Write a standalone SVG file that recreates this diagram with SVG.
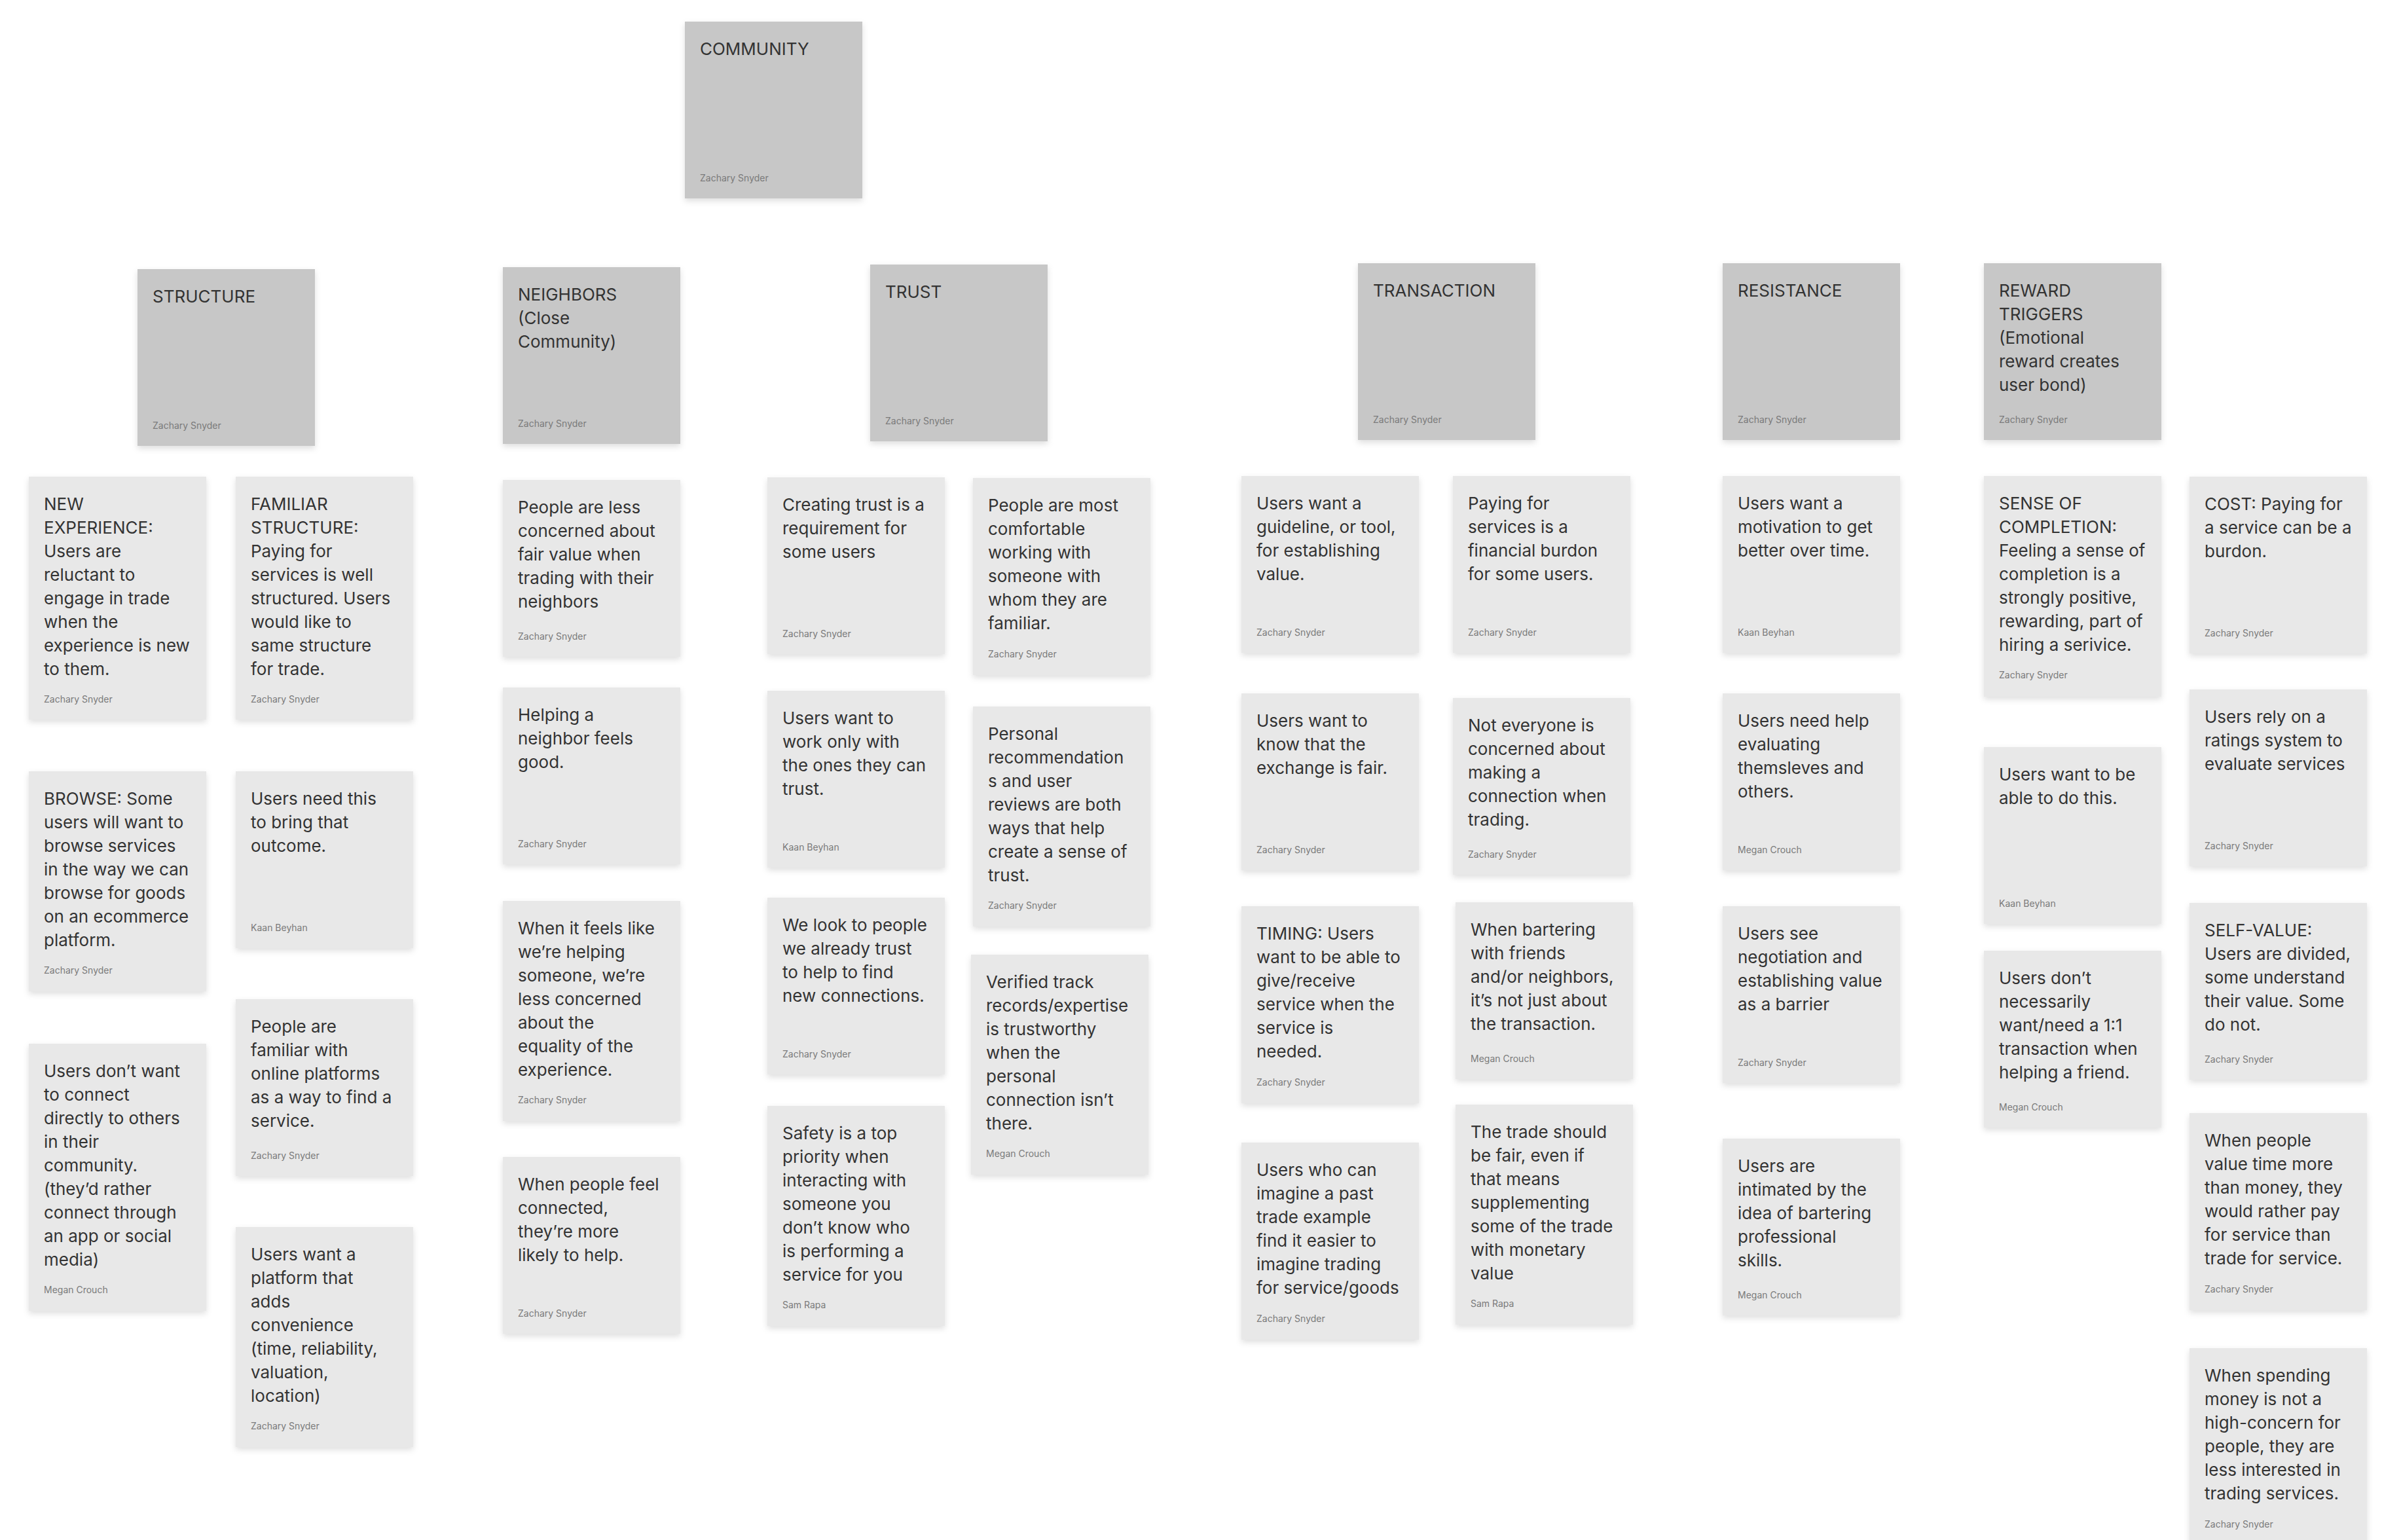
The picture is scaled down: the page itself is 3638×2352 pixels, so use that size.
<svg xmlns="http://www.w3.org/2000/svg" width="3638" height="2352" viewBox="0 0 3638 2352">
<defs>
<filter id="sh" x="-10%" y="-10%" width="120%" height="125%">
<feDropShadow dx="0" dy="4" stdDeviation="5" flood-color="#000" flood-opacity="0.13"/>
</filter>
<style>
.hd rect{fill:#C7C7C7}
.cd rect{fill:#E8E8E8}
rect{filter:url(#sh)}
.t{font-family:Inter,"Liberation Sans",sans-serif;font-size:26px;fill:#333333}
.a{font-family:Inter,"Liberation Sans",sans-serif;font-size:14px;fill:#7A7A7A}
</style>
</defs>
<rect width="3638" height="2352" fill="#FFFFFF" style="filter:none"/>
<g id="connectors"/>

<g id="community" class="hd" transform="translate(1046,33)"><rect width="271" height="270"/><text class="t" x="23" y="51">COMMUNITY</text><text class="a" x="23" y="244">Zachary Snyder</text></g>
<g id="structure" class="hd" transform="translate(210,411)"><rect width="271" height="270"/><text class="t" x="23" y="51">STRUCTURE</text><text class="a" x="23" y="244">Zachary Snyder</text></g>
<g id="neighbors" class="hd" transform="translate(768,408)"><rect width="271" height="270"/><text class="t"><tspan x="23" y="51">NEIGHBORS</tspan><tspan x="23" dy="36">(Close</tspan><tspan x="23" dy="36">Community)</tspan></text><text class="a" x="23" y="244">Zachary Snyder</text></g>
<g id="trust" class="hd" transform="translate(1329,404)"><rect width="271" height="270"/><text class="t" x="23" y="51">TRUST</text><text class="a" x="23" y="244">Zachary Snyder</text></g>
<g id="transaction" class="hd" transform="translate(2074,402)"><rect width="271" height="270"/><text class="t" x="23" y="51">TRANSACTION</text><text class="a" x="23" y="244">Zachary Snyder</text></g>
<g id="resistance" class="hd" transform="translate(2631,402)"><rect width="271" height="270"/><text class="t" x="23" y="51">RESISTANCE</text><text class="a" x="23" y="244">Zachary Snyder</text></g>
<g id="reward-triggers" class="hd" transform="translate(3030,402)"><rect width="271" height="270"/><text class="t"><tspan x="23" y="51">REWARD</tspan><tspan x="23" dy="36">TRIGGERS</tspan><tspan x="23" dy="36">(Emotional</tspan><tspan x="23" dy="36">reward creates</tspan><tspan x="23" dy="36">user bond)</tspan></text><text class="a" x="23" y="244">Zachary Snyder</text></g>

<g id="new-experience" class="cd" transform="translate(44,728)"><rect width="271" height="371"/><text class="t"><tspan x="23" y="51">NEW</tspan><tspan x="23" dy="36">EXPERIENCE:</tspan><tspan x="23" dy="36">Users are</tspan><tspan x="23" dy="36">reluctant to</tspan><tspan x="23" dy="36">engage in trade</tspan><tspan x="23" dy="36">when the</tspan><tspan x="23" dy="36">experience is new</tspan><tspan x="23" dy="36">to them.</tspan></text><text class="a" x="23" y="345">Zachary Snyder</text></g>
<g id="browse" class="cd" transform="translate(44,1178)"><rect width="271" height="336"/><text class="t"><tspan x="23" y="51">BROWSE: Some</tspan><tspan x="23" dy="36">users will want to</tspan><tspan x="23" dy="36">browse services</tspan><tspan x="23" dy="36">in the way we can</tspan><tspan x="23" dy="36">browse for goods</tspan><tspan x="23" dy="36">on an ecommerce</tspan><tspan x="23" dy="36">platform.</tspan></text><text class="a" x="23" y="309">Zachary Snyder</text></g>
<g id="no-direct-connect" class="cd" transform="translate(44,1594)"><rect width="271" height="408"/><text class="t"><tspan x="23" y="51">Users don’t want</tspan><tspan x="23" dy="36">to connect</tspan><tspan x="23" dy="36">directly to others</tspan><tspan x="23" dy="36">in their</tspan><tspan x="23" dy="36">community.</tspan><tspan x="23" dy="36">(they’d rather</tspan><tspan x="23" dy="36">connect through</tspan><tspan x="23" dy="36">an app or social</tspan><tspan x="23" dy="36">media)</tspan></text><text class="a" x="23" y="381">Megan Crouch</text></g>

<g id="familiar-structure" class="cd" transform="translate(360,728)"><rect width="271" height="371"/><text class="t"><tspan x="23" y="51">FAMILIAR</tspan><tspan x="23" dy="36">STRUCTURE:</tspan><tspan x="23" dy="36">Paying for</tspan><tspan x="23" dy="36">services is well</tspan><tspan x="23" dy="36">structured. Users</tspan><tspan x="23" dy="36">would like to</tspan><tspan x="23" dy="36">same structure</tspan><tspan x="23" dy="36">for trade.</tspan></text><text class="a" x="23" y="345">Zachary Snyder</text></g>
<g id="need-outcome" class="cd" transform="translate(360,1178)"><rect width="271" height="270"/><text class="t"><tspan x="23" y="51">Users need this</tspan><tspan x="23" dy="36">to bring that</tspan><tspan x="23" dy="36">outcome.</tspan></text><text class="a" x="23" y="244">Kaan Beyhan</text></g>
<g id="familiar-platforms" class="cd" transform="translate(360,1526)"><rect width="271" height="270"/><text class="t"><tspan x="23" y="51">People are</tspan><tspan x="23" dy="36">familiar with</tspan><tspan x="23" dy="36">online platforms</tspan><tspan x="23" dy="36">as a way to find a</tspan><tspan x="23" dy="36">service.</tspan></text><text class="a" x="23" y="244">Zachary Snyder</text></g>
<g id="platform-convenience" class="cd" transform="translate(360,1874)"><rect width="271" height="336"/><text class="t"><tspan x="23" y="51">Users want a</tspan><tspan x="23" dy="36">platform that</tspan><tspan x="23" dy="36">adds</tspan><tspan x="23" dy="36">convenience</tspan><tspan x="23" dy="36">(time, reliability,</tspan><tspan x="23" dy="36">valuation,</tspan><tspan x="23" dy="36">location)</tspan></text><text class="a" x="23" y="309">Zachary Snyder</text></g>

<g id="less-concerned" class="cd" transform="translate(768,733)"><rect width="271" height="270"/><text class="t"><tspan x="23" y="51">People are less</tspan><tspan x="23" dy="36">concerned about</tspan><tspan x="23" dy="36">fair value when</tspan><tspan x="23" dy="36">trading with their</tspan><tspan x="23" dy="36">neighbors</tspan></text><text class="a" x="23" y="244">Zachary Snyder</text></g>
<g id="helping-neighbor" class="cd" transform="translate(768,1050)"><rect width="271" height="270"/><text class="t"><tspan x="23" y="51">Helping a</tspan><tspan x="23" dy="36">neighbor feels</tspan><tspan x="23" dy="36">good.</tspan></text><text class="a" x="23" y="244">Zachary Snyder</text></g>
<g id="feels-helping" class="cd" transform="translate(768,1376)"><rect width="271" height="336"/><text class="t"><tspan x="23" y="51">When it feels like</tspan><tspan x="23" dy="36">we’re helping</tspan><tspan x="23" dy="36">someone, we’re</tspan><tspan x="23" dy="36">less concerned</tspan><tspan x="23" dy="36">about the</tspan><tspan x="23" dy="36">equality of the</tspan><tspan x="23" dy="36">experience.</tspan></text><text class="a" x="23" y="309">Zachary Snyder</text></g>
<g id="feel-connected" class="cd" transform="translate(768,1767)"><rect width="271" height="270"/><text class="t"><tspan x="23" y="51">When people feel</tspan><tspan x="23" dy="36">connected,</tspan><tspan x="23" dy="36">they’re more</tspan><tspan x="23" dy="36">likely to help.</tspan></text><text class="a" x="23" y="244">Zachary Snyder</text></g>

<g id="creating-trust" class="cd" transform="translate(1172,729)"><rect width="271" height="270"/><text class="t"><tspan x="23" y="51">Creating trust is a</tspan><tspan x="23" dy="36">requirement for</tspan><tspan x="23" dy="36">some users</tspan></text><text class="a" x="23" y="244">Zachary Snyder</text></g>
<g id="work-trust" class="cd" transform="translate(1172,1055)"><rect width="271" height="270"/><text class="t"><tspan x="23" y="51">Users want to</tspan><tspan x="23" dy="36">work only with</tspan><tspan x="23" dy="36">the ones they can</tspan><tspan x="23" dy="36">trust.</tspan></text><text class="a" x="23" y="244">Kaan Beyhan</text></g>
<g id="look-people" class="cd" transform="translate(1172,1371)"><rect width="271" height="270"/><text class="t"><tspan x="23" y="51">We look to people</tspan><tspan x="23" dy="36">we already trust</tspan><tspan x="23" dy="36">to help to find</tspan><tspan x="23" dy="36">new connections.</tspan></text><text class="a" x="23" y="244">Zachary Snyder</text></g>
<g id="safety" class="cd" transform="translate(1172,1689)"><rect width="271" height="336"/><text class="t"><tspan x="23" y="51">Safety is a top</tspan><tspan x="23" dy="36">priority when</tspan><tspan x="23" dy="36">interacting with</tspan><tspan x="23" dy="36">someone you</tspan><tspan x="23" dy="36">don’t know who</tspan><tspan x="23" dy="36">is performing a</tspan><tspan x="23" dy="36">service for you</tspan></text><text class="a" x="23" y="309">Sam Rapa</text></g>

<g id="most-comfortable" class="cd" transform="translate(1486,730)"><rect width="271" height="301"/><text class="t"><tspan x="23" y="51">People are most</tspan><tspan x="23" dy="36">comfortable</tspan><tspan x="23" dy="36">working with</tspan><tspan x="23" dy="36">someone with</tspan><tspan x="23" dy="36">whom they are</tspan><tspan x="23" dy="36">familiar.</tspan></text><text class="a" x="23" y="274">Zachary Snyder</text></g>
<g id="personal-recs" class="cd" transform="translate(1486,1079)"><rect width="271" height="336"/><text class="t"><tspan x="23" y="51">Personal</tspan><tspan x="23" dy="36">recommendation</tspan><tspan x="23" dy="36">s and user</tspan><tspan x="23" dy="36">reviews are both</tspan><tspan x="23" dy="36">ways that help</tspan><tspan x="23" dy="36">create a sense of</tspan><tspan x="23" dy="36">trust.</tspan></text><text class="a" x="23" y="309">Zachary Snyder</text></g>
<g id="verified" class="cd" transform="translate(1483,1458)"><rect width="271" height="336"/><text class="t"><tspan x="23" y="51">Verified track</tspan><tspan x="23" dy="36">records/expertise</tspan><tspan x="23" dy="36">is trustworthy</tspan><tspan x="23" dy="36">when the</tspan><tspan x="23" dy="36">personal</tspan><tspan x="23" dy="36">connection isn’t</tspan><tspan x="23" dy="36">there.</tspan></text><text class="a" x="23" y="309">Megan Crouch</text></g>

<g id="guideline" class="cd" transform="translate(1896,727)"><rect width="271" height="270"/><text class="t"><tspan x="23" y="51">Users want a</tspan><tspan x="23" dy="36">guideline, or tool,</tspan><tspan x="23" dy="36">for establishing</tspan><tspan x="23" dy="36">value.</tspan></text><text class="a" x="23" y="244">Zachary Snyder</text></g>
<g id="fair-exchange" class="cd" transform="translate(1896,1059)"><rect width="271" height="270"/><text class="t"><tspan x="23" y="51">Users want to</tspan><tspan x="23" dy="36">know that the</tspan><tspan x="23" dy="36">exchange is fair.</tspan></text><text class="a" x="23" y="244">Zachary Snyder</text></g>
<g id="timing" class="cd" transform="translate(1896,1384)"><rect width="271" height="301"/><text class="t"><tspan x="23" y="51">TIMING: Users</tspan><tspan x="23" dy="36">want to be able to</tspan><tspan x="23" dy="36">give/receive</tspan><tspan x="23" dy="36">service when the</tspan><tspan x="23" dy="36">service is</tspan><tspan x="23" dy="36">needed.</tspan></text><text class="a" x="23" y="274">Zachary Snyder</text></g>
<g id="past-trade" class="cd" transform="translate(1896,1745)"><rect width="271" height="301"/><text class="t"><tspan x="23" y="51">Users who can</tspan><tspan x="23" dy="36">imagine a past</tspan><tspan x="23" dy="36">trade example</tspan><tspan x="23" dy="36">find it easier to</tspan><tspan x="23" dy="36">imagine trading</tspan><tspan x="23" dy="36">for service/goods</tspan></text><text class="a" x="23" y="274">Zachary Snyder</text></g>

<g id="financial-burden" class="cd" transform="translate(2219,727)"><rect width="271" height="270"/><text class="t"><tspan x="23" y="51">Paying for</tspan><tspan x="23" dy="36">services is a</tspan><tspan x="23" dy="36">financial burdon</tspan><tspan x="23" dy="36">for some users.</tspan></text><text class="a" x="23" y="244">Zachary Snyder</text></g>
<g id="not-everyone" class="cd" transform="translate(2219,1066)"><rect width="271" height="270"/><text class="t"><tspan x="23" y="51">Not everyone is</tspan><tspan x="23" dy="36">concerned about</tspan><tspan x="23" dy="36">making a</tspan><tspan x="23" dy="36">connection when</tspan><tspan x="23" dy="36">trading.</tspan></text><text class="a" x="23" y="244">Zachary Snyder</text></g>
<g id="bartering" class="cd" transform="translate(2223,1378)"><rect width="271" height="270"/><text class="t"><tspan x="23" y="51">When bartering</tspan><tspan x="23" dy="36">with friends</tspan><tspan x="23" dy="36">and/or neighbors,</tspan><tspan x="23" dy="36">it’s not just about</tspan><tspan x="23" dy="36">the transaction.</tspan></text><text class="a" x="23" y="244">Megan Crouch</text></g>
<g id="fair-trade" class="cd" transform="translate(2223,1687)"><rect width="271" height="336"/><text class="t"><tspan x="23" y="51">The trade should</tspan><tspan x="23" dy="36">be fair, even if</tspan><tspan x="23" dy="36">that means</tspan><tspan x="23" dy="36">supplementing</tspan><tspan x="23" dy="36">some of the trade</tspan><tspan x="23" dy="36">with monetary</tspan><tspan x="23" dy="36">value</tspan></text><text class="a" x="23" y="309">Sam Rapa</text></g>

<g id="motivation" class="cd" transform="translate(2631,727)"><rect width="271" height="270"/><text class="t"><tspan x="23" y="51">Users want a</tspan><tspan x="23" dy="36">motivation to get</tspan><tspan x="23" dy="36">better over time.</tspan></text><text class="a" x="23" y="244">Kaan Beyhan</text></g>
<g id="evaluating" class="cd" transform="translate(2631,1059)"><rect width="271" height="270"/><text class="t"><tspan x="23" y="51">Users need help</tspan><tspan x="23" dy="36">evaluating</tspan><tspan x="23" dy="36">themsleves and</tspan><tspan x="23" dy="36">others.</tspan></text><text class="a" x="23" y="244">Megan Crouch</text></g>
<g id="negotiation" class="cd" transform="translate(2631,1384)"><rect width="271" height="270"/><text class="t"><tspan x="23" y="51">Users see</tspan><tspan x="23" dy="36">negotiation and</tspan><tspan x="23" dy="36">establishing value</tspan><tspan x="23" dy="36">as a barrier</tspan></text><text class="a" x="23" y="244">Zachary Snyder</text></g>
<g id="intimated" class="cd" transform="translate(2631,1739)"><rect width="271" height="270"/><text class="t"><tspan x="23" y="51">Users are</tspan><tspan x="23" dy="36">intimated by the</tspan><tspan x="23" dy="36">idea of bartering</tspan><tspan x="23" dy="36">professional</tspan><tspan x="23" dy="36">skills.</tspan></text><text class="a" x="23" y="244">Megan Crouch</text></g>

<g id="completion" class="cd" transform="translate(3030,727)"><rect width="271" height="337"/><text class="t"><tspan x="23" y="51">SENSE OF</tspan><tspan x="23" dy="36">COMPLETION:</tspan><tspan x="23" dy="36">Feeling a sense of</tspan><tspan x="23" dy="36">completion is a</tspan><tspan x="23" dy="36">strongly positive,</tspan><tspan x="23" dy="36">rewarding, part of</tspan><tspan x="23" dy="36">hiring a serivice.</tspan></text><text class="a" x="23" y="309">Zachary Snyder</text></g>
<g id="do-this" class="cd" transform="translate(3030,1141)"><rect width="271" height="270"/><text class="t"><tspan x="23" y="51">Users want to be</tspan><tspan x="23" dy="36">able to do this.</tspan></text><text class="a" x="23" y="244">Kaan Beyhan</text></g>
<g id="not-one-to-one" class="cd" transform="translate(3030,1452)"><rect width="271" height="270"/><text class="t"><tspan x="23" y="51">Users don’t</tspan><tspan x="23" dy="36">necessarily</tspan><tspan x="23" dy="36">want/need a 1:1</tspan><tspan x="23" dy="36">transaction when</tspan><tspan x="23" dy="36">helping a friend.</tspan></text><text class="a" x="23" y="244">Megan Crouch</text></g>

<g id="cost" class="cd" transform="translate(3344,728)"><rect width="271" height="270"/><text class="t"><tspan x="23" y="51">COST: Paying for</tspan><tspan x="23" dy="36">a service can be a</tspan><tspan x="23" dy="36">burdon.</tspan></text><text class="a" x="23" y="244">Zachary Snyder</text></g>
<g id="ratings" class="cd" transform="translate(3344,1053)"><rect width="271" height="270"/><text class="t"><tspan x="23" y="51">Users rely on a</tspan><tspan x="23" dy="36">ratings system to</tspan><tspan x="23" dy="36">evaluate services</tspan></text><text class="a" x="23" y="244">Zachary Snyder</text></g>
<g id="self-value" class="cd" transform="translate(3344,1379)"><rect width="271" height="270"/><text class="t"><tspan x="23" y="51">SELF-VALUE:</tspan><tspan x="23" dy="36">Users are divided,</tspan><tspan x="23" dy="36">some understand</tspan><tspan x="23" dy="36">their value. Some</tspan><tspan x="23" dy="36">do not.</tspan></text><text class="a" x="23" y="244">Zachary Snyder</text></g>
<g id="value-time" class="cd" transform="translate(3344,1700)"><rect width="271" height="301"/><text class="t"><tspan x="23" y="51">When people</tspan><tspan x="23" dy="36">value time more</tspan><tspan x="23" dy="36">than money, they</tspan><tspan x="23" dy="36">would rather pay</tspan><tspan x="23" dy="36">for service than</tspan><tspan x="23" dy="36">trade for service.</tspan></text><text class="a" x="23" y="274">Zachary Snyder</text></g>
<g id="spending" class="cd" transform="translate(3344,2059)"><rect width="271" height="301"/><text class="t"><tspan x="23" y="51">When spending</tspan><tspan x="23" dy="36">money is not a</tspan><tspan x="23" dy="36">high-concern for</tspan><tspan x="23" dy="36">people, they are</tspan><tspan x="23" dy="36">less interested in</tspan><tspan x="23" dy="36">trading services.</tspan></text><text class="a" x="23" y="274">Zachary Snyder</text></g>
</svg>
